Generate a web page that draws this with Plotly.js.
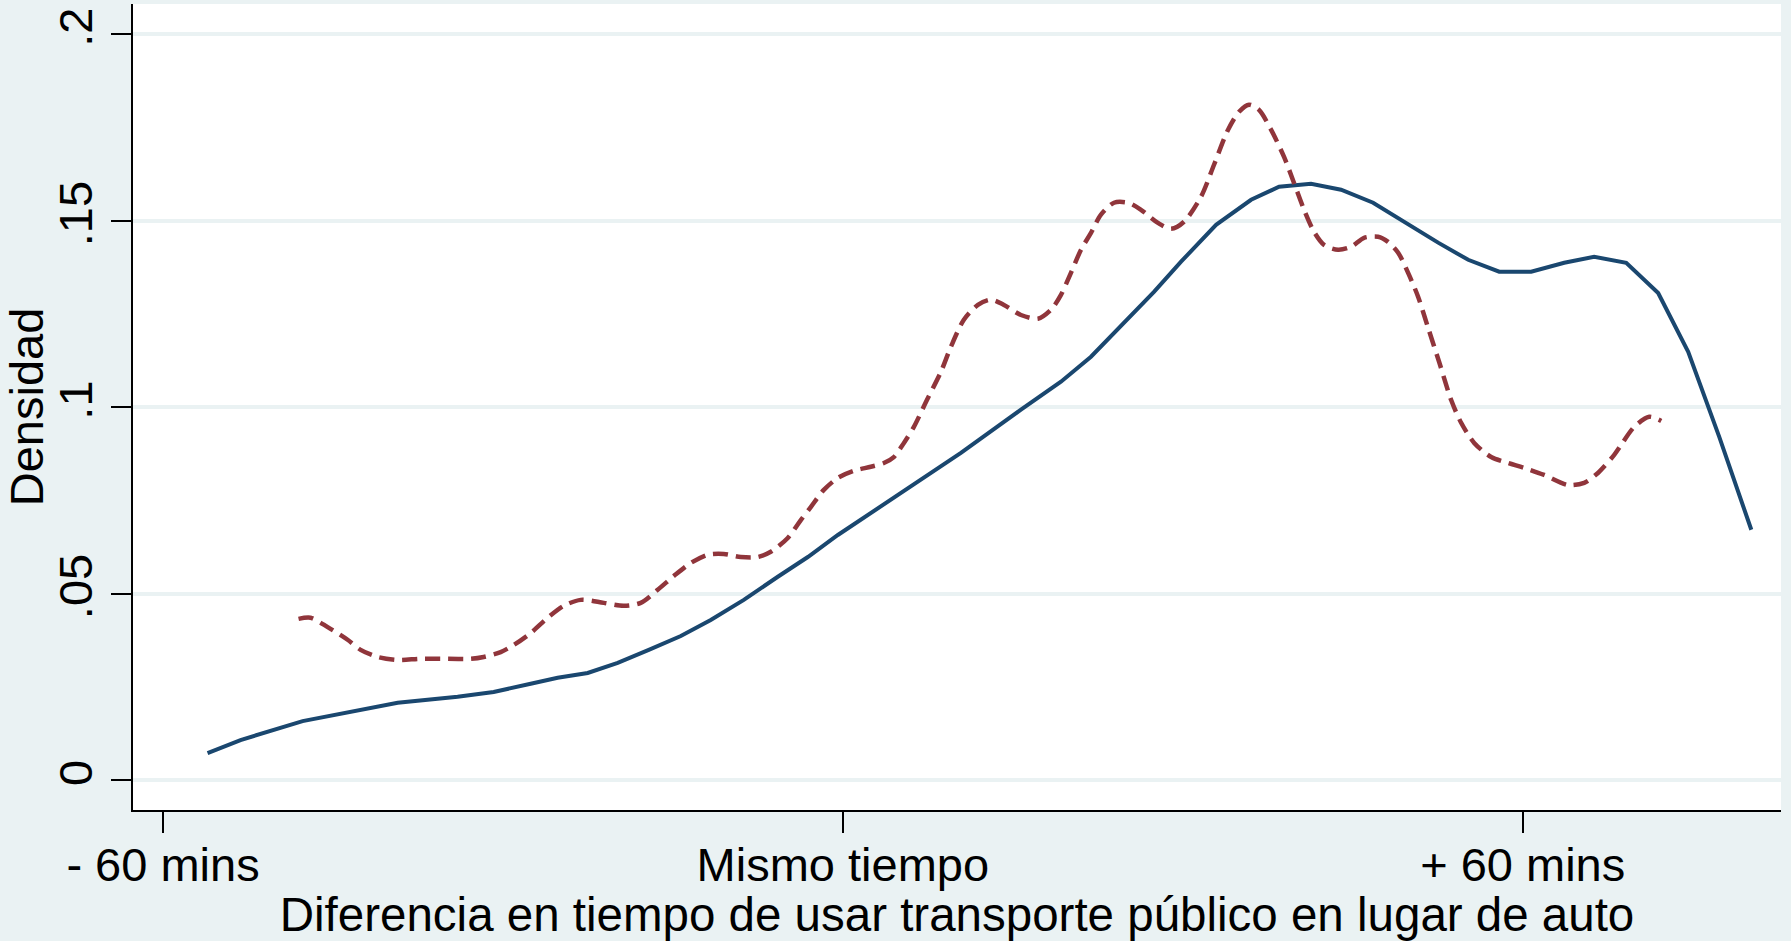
<!DOCTYPE html>
<html>
<head>
<meta charset="utf-8">
<script src="https://cdn.plot.ly/plotly-3.0.1.min.js"></script>
<style>
    html, body { margin: 0; padding: 0; background: #eaf2f3; }
    #chart { width: 1791px; height: 941px; }
</style>
</head>
<body>
<div id="chart"></div>
<script>
// minutes difference (transit - car) vs kernel density
let blueX = [-56.07, -53.16, -47.68, -43.71, -39.29, -34.00, -30.82, -27.55, -25.17, -22.52,
    -19.87, -17.13, -14.30, -11.66, -8.74, -5.74, -3.09, -0.44, 2.47, 5.12,
    7.77, 10.42, 15.72, 19.25, 21.90, 24.81, 27.46, 29.85, 32.94, 36.03,
    38.50, 41.32, 43.97, 46.80, 49.54, 52.54, 55.19, 57.93, 60.75, 63.67,
    66.31, 69.14, 71.96, 74.61, 77.35, 80.18];
let blueY = [0.0072, 0.0107, 0.0158, 0.0182, 0.0207, 0.0223, 0.0236, 0.0258, 0.0274, 0.0287,
    0.0314, 0.0349, 0.0386, 0.0429, 0.0483, 0.0545, 0.0598, 0.0657, 0.0716, 0.0770,
    0.0824, 0.0877, 0.0993, 0.1068, 0.1135, 0.1226, 0.1309, 0.1390, 0.1489, 0.1556,
    0.1591, 0.1599, 0.1583, 0.1548, 0.1497, 0.1441, 0.1395, 0.1363, 0.1363, 0.1387,
    0.1403, 0.1387, 0.1306, 0.1148, 0.0920, 0.0671];

let redX = [-48.04, -46.98, -45.47, -43.71, -42.56, -41.06, -39.29, -37.26, -34.88, -32.85,
    -31.70, -30.20, -29.05, -27.55, -26.05, -24.64, -23.13, -21.10, -19.34, -17.84,
    -16.34, -14.92, -13.42, -11.92, -10.51, -9.01, -7.51, -6.36, -4.86, -3.71,
    -2.83, -1.68, -0.44, 0.97, 2.47, 3.62, 4.50, 5.39, 6.27, 7.42,
    8.65, 9.54, 10.68, 11.92, 13.07, 14.22, 15.72, 17.22, 18.37, 19.25,
    20.13, 21.02, 21.90, 22.78, 23.93, 25.17, 26.31, 27.81, 28.96, 30.11,
    31.61, 32.76, 34.00, 34.97, 35.85, 36.73, 37.79, 38.94, 39.82, 40.71,
    41.59, 42.47, 43.71, 44.86, 46.00, 47.24, 48.12, 49.01, 49.89, 50.77,
    51.66, 52.63, 53.69, 54.57, 55.72, 57.22, 58.72, 60.13, 61.90, 64.02,
    65.43, 66.67, 68.08, 69.85, 71.17, 72.23];
let redY = [0.0432, 0.0435, 0.0410, 0.0376, 0.0349, 0.0330, 0.0322, 0.0325, 0.0325, 0.0325,
    0.0330, 0.0343, 0.0362, 0.0394, 0.0435, 0.0467, 0.0483, 0.0475, 0.0467, 0.0475,
    0.0510, 0.0547, 0.0582, 0.0604, 0.0606, 0.0598, 0.0598, 0.0612, 0.0649, 0.0697,
    0.0732, 0.0778, 0.0810, 0.0829, 0.0840, 0.0850, 0.0866, 0.0904, 0.0947, 0.1019,
    0.1094, 0.1162, 0.1234, 0.1274, 0.1288, 0.1274, 0.1247, 0.1237, 0.1261, 0.1301,
    0.1360, 0.1422, 0.1467, 0.1516, 0.1548, 0.1548, 0.1529, 0.1494, 0.1478, 0.1497,
    0.1564, 0.1650, 0.1744, 0.1792, 0.1811, 0.1797, 0.1744, 0.1671, 0.1601, 0.1529,
    0.1470, 0.1435, 0.1422, 0.1430, 0.1454, 0.1457, 0.1443, 0.1414, 0.1360, 0.1296,
    0.1212, 0.1121, 0.1019, 0.0958, 0.0904, 0.0866, 0.0850, 0.0837, 0.0818, 0.0791,
    0.0797, 0.0824, 0.0872, 0.0947, 0.0974, 0.0963];

let xTickVals = [-60, 0, 60];
let xTickText = ["- 60 mins", "Mismo tiempo", "+ 60 mins"];
let yTickVals = [0, 0.05, 0.1, 0.15, 0.2];
let yTickText = ["0", ".05", ".1", ".15", ".2"];

let fontFamily = '"Liberation Sans", Arial, Helvetica, sans-serif';

let blueTrace = {
    x: blueX,
    y: blueY,
    type: 'scatter',
    mode: 'lines',
    line: { color: '#1a476f', width: 4 },
    hoverinfo: 'none'
};

let redTrace = {
    x: redX,
    y: redY,
    type: 'scatter',
    mode: 'lines',
    line: { color: '#90353b', width: 4.5, dash: '15px,8px', shape: 'spline', smoothing: 0.8 },
    hoverinfo: 'none'
};

let layout = {
    width: 1791,
    height: 941,
    showlegend: false,
    paper_bgcolor: '#eaf2f3',
    plot_bgcolor: '#ffffff',
    margin: { l: 133, r: 10, t: 4, b: 131 },
    font: { family: fontFamily, size: 47, color: '#000000' },
    xaxis: {
        range: [-62.65, 82.8],
        tickmode: 'array',
        tickvals: xTickVals,
        ticktext: xTickText,
        ticks: 'outside',
        ticklen: 21,
        tickwidth: 2,
        tickcolor: '#000000',
        ticklabelstandoff: -8,
        showgrid: false,
        zeroline: false,
        showline: true,
        linecolor: '#000000',
        linewidth: 2,
        automargin: false,
        title: { text: 'Diferencia en tiempo de usar transporte público en lugar de auto', font: { size: 47.5 }, standoff: 0 }
    },
    yaxis: {
        range: [-0.00805, 0.2081],
        tickmode: 'array',
        tickvals: yTickVals,
        ticktext: yTickText,
        tickangle: -90,
        ticks: 'outside',
        ticklen: 20,
        tickwidth: 2,
        tickcolor: '#000000',
        showgrid: true,
        gridcolor: '#eaf2f3',
        gridwidth: 4,
        zeroline: false,
        showline: true,
        linecolor: '#000000',
        linewidth: 2,
        automargin: false,
        title: { text: 'Densidad', font: { size: 47 }, standoff: 0 }
    }
};

Plotly.newPlot('chart', [blueTrace, redTrace], layout, { staticPlot: true });
</script>
</body>
</html>
